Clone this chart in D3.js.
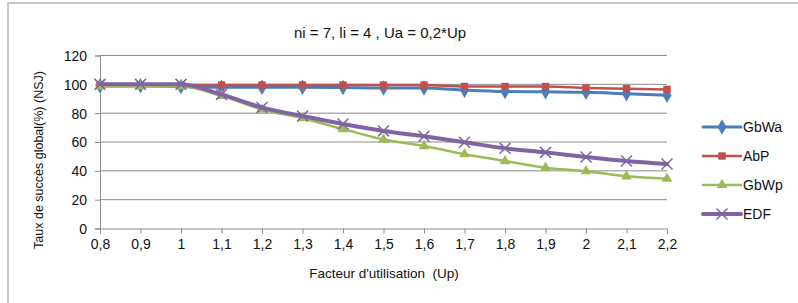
<!DOCTYPE html>
<html>
<head>
<meta charset="utf-8">
<script src="https://cdn.jsdelivr.net/npm/d3@7"></script>
<style>
  body { margin: 0; background: #fff; }
  text { font-family: "Liberation Sans", Arial, sans-serif; fill: #111; white-space: pre; }
</style>
</head>
<body>
<svg id="chart"></svg>
<script>
const categories = ["0,8", "0,9", "1", "1,1", "1,2", "1,3", "1,4", "1,5", "1,6", "1,7", "1,8", "1,9", "2", "2,1", "2,2"];
const gbwa = [99, 99, 98.5, 98, 98, 98, 97.8, 97.5, 97.5, 96, 95, 94.8, 94.5, 93.5, 92.5];
const abp = [99.5, 99.5, 99.5, 99.5, 99.5, 99.5, 99.5, 99.5, 99.5, 98.5, 98.5, 98.5, 97.5, 97, 96.5];
const gbwp = [98.5, 98.5, 98.5, 92, 82.5, 76.5, 69, 61.7, 57.2, 51.5, 46.8, 42.2, 39.7, 36.2, 34.5];
const edf = [100, 100, 100, 93, 84, 78, 72.5, 67.7, 64, 59.8, 55.6, 52.8, 49.6, 46.8, 44.7];
const yTicks = [0, 20, 40, 60, 80, 100, 120];

const series = [
  { name: "GbWa", values: gbwa, color: "#4a7ebb", width: 3, marker: "diamond" },
  { name: "AbP", values: abp, color: "#c0504d", width: 2.5, marker: "square" },
  { name: "GbWp", values: gbwp, color: "#9bbb59", width: 2.5, marker: "triangle" },
  { name: "EDF", values: edf, color: "#8064a2", width: 4, marker: "x" }
];

const W = 798, H = 303;
const margin = { top: 55.5, left: 100, right: 131, bottom: 74.5 };
const width = W - margin.left - margin.right;
const height = H - margin.top - margin.bottom;

const svg = d3.select("#chart").attr("width", W).attr("height", H);

// outer frame
svg.append("rect")
  .attr("x", 8).attr("y", 3).attr("width", W).attr("height", H)
  .attr("fill", "none").attr("stroke", "#c8c8c8").attr("stroke-width", 2);

const g = svg.append("g").attr("transform", `translate(${margin.left},${margin.top})`);

const x = d3.scalePoint().domain(categories).range([0, width]);
const y = d3.scaleLinear().domain([0, 120]).range([height, 0]);

// grid
g.selectAll(".grid").data(yTicks.filter(d => d > 0)).enter().append("line")
  .attr("x1", 0).attr("x2", width)
  .attr("y1", d => y(d)).attr("y2", d => y(d))
  .attr("stroke", "#8c8c8c").attr("stroke-width", 1);

const xAxis = g.append("g").attr("transform", `translate(0,${height})`)
  .call(d3.axisBottom(x).tickSize(5).tickPadding(6));
const yAxis = g.append("g")
  .call(d3.axisLeft(y).tickValues(yTicks).tickSize(5).tickPadding(8));

[xAxis, yAxis].forEach(a => {
  a.selectAll("path, line").attr("stroke", "#8c8c8c");
  a.selectAll("text").style("font-size", "14px").style("font-family", "Liberation Sans, Arial, sans-serif").attr("fill", "#111");
});
yAxis.selectAll("text").attr("dy", "0.35em");

const symbols = {
  diamond: d3.symbol().type(d3.symbolDiamond).size(70),
  square: d3.symbol().type(d3.symbolSquare).size(55),
  triangle: d3.symbol().type(d3.symbolTriangle).size(50),
  x: d3.symbol().type(d3.symbolX).size(80)
};

function drawMarker(sel, s) {
  const p = sel.append("path").attr("d", symbols[s.marker]());
  if (s.marker === "x") {
    p.attr("fill", "none").attr("stroke", s.color).attr("stroke-width", 1.5);
  } else {
    p.attr("fill", s.color);
  }
  return p;
}

const line = d3.line().x((d, i) => x(categories[i])).y(d => y(d)).curve(d3.curveMonotoneX);

series.forEach(s => {
  g.append("path").datum(s.values)
    .attr("fill", "none").attr("stroke", s.color).attr("stroke-width", s.width)
    .attr("stroke-linejoin", "round").attr("stroke-linecap", "round")
    .attr("d", line);
  s.values.forEach((v, i) => {
    const m = g.append("g").attr("transform", `translate(${x(categories[i])},${y(v)})`);
    drawMarker(m, s);
  });
});

// title
svg.append("text").attr("x", 380).attr("y", 38).attr("text-anchor", "middle")
  .style("font-size", "15px").text("ni = 7, li = 4 , Ua = 0,2*Up");

// axis titles
svg.append("text").attr("x", 384).attr("y", 278).attr("text-anchor", "middle")
  .style("font-size", "13.5px").text("Facteur d'utilisation  (Up)");
svg.append("text").attr("transform", "translate(43,160) rotate(-90)").attr("text-anchor", "middle")
  .style("font-size", "12.5px").text("Taux de succès global(%) (NSJ)");

// legend
const legend = svg.append("g").attr("transform", "translate(703,127)");
series.forEach((s, i) => {
  const row = legend.append("g").attr("transform", `translate(0,${i * 29})`);
  row.append("line").attr("x1", 0).attr("x2", 38).attr("y1", 0).attr("y2", 0)
    .attr("stroke", s.color).attr("stroke-width", s.width).attr("stroke-linecap", "round");
  drawMarker(row.append("g").attr("transform", "translate(19,0)"), s);
  row.append("text").attr("x", 40).attr("y", 0).attr("dy", "0.35em")
    .style("font-size", "14px").text(s.name);
});
</script>
</body>
</html>
